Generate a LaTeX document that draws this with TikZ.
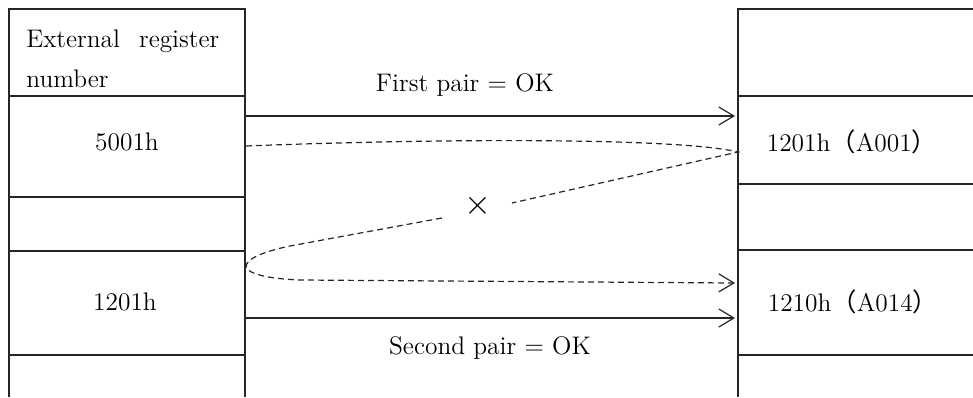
\documentclass[tikz,border=0pt]{standalone}
\usepackage{fontspec}
\newfontfamily\cjk{Noto Sans CJK JP}
\usetikzlibrary{arrows.meta}
\begin{document}
\begin{tikzpicture}[x=0.5pt,y=-0.5pt,
  grid/.style={draw=black!85, line width=0.65pt},
  lbl/.style={font=\fontsize{12.7}{15}\selectfont, inner sep=0pt},
  okarrow/.style={draw=black!85, line width=0.6pt, -{Straight Barb[length=7.5pt,width=9pt]}},
  tryline/.style={draw=black!85, line width=0.6pt, dash pattern=on 3pt off 2pt},
  crossmark/.style={font=\fontsize{19}{19}\selectfont, inner sep=0pt}]
\useasboundingbox (0,0) rectangle (973,397);
% left column
\draw[grid] (9,397) -- (9,9) -- (245,9) -- (245,397);
\draw[grid] (9,96) -- (245,96);
\draw[grid] (9,197) -- (245,197);
\draw[grid] (9,251) -- (245,251);
\draw[grid] (9,355) -- (245,355);
% right column
\draw[grid] (973,9) -- (738,9) -- (738,397);
\draw[grid] (738,96) -- (973,96);
\draw[grid] (738,184) -- (973,184);
\draw[grid] (738,250) -- (973,250);
\draw[grid] (738,355) -- (973,355);
% texts
\node[lbl, anchor=base west] (hdra) at (26,47) {External\hspace{0.75em}register};
\node[lbl, anchor=base west] (hdrb) at (26,87) {number};
\node[lbl] (l1) at (127,142) {5001h};
\node[lbl] (l3) at (125,302) {1201h};
\node[lbl] (r1) at (852,142) {1201h{\cjk （}A001{\cjk ）}};
\node[lbl] (r3) at (853,302) {1210h{\cjk （}A014{\cjk ）}};
\node[lbl] (ok1) at (465,85) {First pair = OK};
\node[lbl] (ok2) at (490,348) {Second pair = OK};
\node[crossmark] (x) at (478,206) {$\times$};
% connector end points
\coordinate (a1s) at (246,116);
\coordinate (a1e) at (735,116);
\coordinate (a2s) at (246,318);
\coordinate (a2e) at (735,318);
\coordinate (ds) at (246,146);
\coordinate (dturn) at (738,152);
\coordinate (dgap1) at (512,203);
\coordinate (dgap2) at (442,218);
\coordinate (dl) at (290,246);
\coordinate (dr) at (300,280);
\coordinate (de) at (735,283);
% arrows
\draw[okarrow] (a1s) -- (a1e);
\draw[okarrow] (a2s) -- (a2e);
\draw[tryline] (ds) .. controls (450,138) and (680,138) .. (dturn) -- (dgap1);
\draw[tryline, -{Straight Barb[length=7.5pt,width=9pt]}] (dgap2) -- (dl) .. controls (232,258) and (228,277) .. (dr) -- (de);
\end{tikzpicture}
\end{document}
